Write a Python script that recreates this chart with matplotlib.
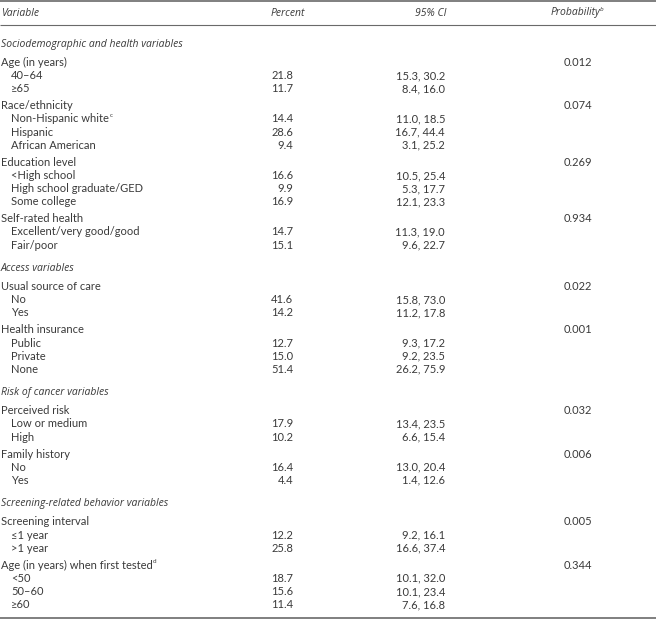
import matplotlib
matplotlib.use("Agg")
import matplotlib.pyplot as plt

# ---------------- data ----------------
section_names = ["Sociodemographic and health variables", "Access variables",
                 "Risk of cancer variables", "Screening-related behavior variables"]
section_group_counts = [4, 2, 2, 2]

group_names = ["Age (in years)", "Race/ethnicity", "Education level", "Self-rated health",
               "Usual source of care", "Health insurance",
               "Perceived risk", "Family history",
               "Screening interval", "Age (in years) when first tested"]
group_sup = ["", "", "", "", "", "", "", "", "", "d"]
group_prob = ["0.012", "0.074", "0.269", "0.934", "0.022", "0.001", "0.032", "0.006", "0.005", "0.344"]
group_sizes = [2, 3, 3, 2, 2, 3, 2, 2, 2, 3]

item_labels = ["40\u201364", "\u226565",
               "Non-Hispanic white", "Hispanic", "African American",
               "<High school", "High school graduate/GED", "Some college",
               "Excellent/very good/good", "Fair/poor",
               "No", "Yes",
               "Public", "Private", "None",
               "Low or medium", "High",
               "No", "Yes",
               "\u22641 year", ">1 year",
               "<50", "50\u201360", "\u226560"]
item_sup = ["", "", "c"] + [""] * 21
item_percent = [21.8, 11.7, 14.4, 28.6, 9.4, 16.6, 9.9, 16.9, 14.7, 15.1,
                41.6, 14.2, 12.7, 15.0, 51.4, 17.9, 10.2, 16.4, 4.4,
                12.2, 25.8, 18.7, 15.6, 11.4]
item_ci_low = [15.3, 8.4, 11.0, 16.7, 3.1, 10.5, 5.3, 12.1, 11.3, 9.6,
               15.8, 11.2, 9.3, 9.2, 26.2, 13.4, 6.6, 13.0, 1.4,
               9.2, 16.6, 10.1, 10.1, 7.6]
item_ci_high = [30.2, 16.0, 18.5, 44.4, 25.2, 25.4, 17.7, 23.3, 19.0, 22.7,
                73.0, 17.8, 17.2, 23.5, 75.9, 23.5, 15.4, 20.4, 12.6,
                16.1, 37.4, 32.0, 23.4, 16.8]

headers = ["Variable", "Percent", "95% CI", "Probability"]

# ---------------- layout ----------------
W, H = 656, 621
fig = plt.figure(figsize=(W / 100, H / 100), dpi=100)
ax = fig.add_axes([0, 0, 1, 1])
ax.set_xlim(0, W)
ax.set_ylim(H, 0)
ax.axis("off")

FONT = ["Lato", "DejaVu Sans"]
IFONT = ["Open Sans", "DejaVu Sans"]
FS = 8.0
IFS = 7.5
TC = "#3a3a3a"
LC = "#6a6a6a"

x_var, x_ind = 1, 11
x_pct_r = 293
x_ci_r = 445
x_prob_c = 578

def txt(x, y, s, ha="left", style="normal", sup=""):
    fam = IFONT if style == "italic" else FONT
    fs = IFS if style == "italic" else FS
    t = ax.text(x, y, s, ha=ha, va="center", fontsize=fs, family=fam,
                color=TC, style=style)
    if sup:
        ax.annotate(sup, xy=(1, 0.6), xycoords=t, ha="left", va="bottom",
                    fontsize=FS * 0.58, family=fam, color=TC, style=style,
                    xytext=(0.3, 0), textcoords="offset points")
    return t

# rules
ax.plot([0, W], [1, 1], color=LC, lw=1.2, solid_capstyle="butt")
ax.plot([0, W], [24.5, 24.5], color=LC, lw=0.8, solid_capstyle="butt")

# header
hy = 13
txt(x_var, hy, headers[0], style="italic")
txt(288, hy, headers[1], ha="center", style="italic")
txt(431, hy, headers[2], ha="center", style="italic")
txt(575, hy, headers[3], ha="center", style="italic", sup="b")

h, g, S, s1 = 13.1, 17.2, 23.0, 18.5
y = 44.0
gi = 0
ii = 0
for si, sname in enumerate(section_names):
    if si > 0:
        y += S
    txt(x_var, y, sname, style="italic")
    for k in range(section_group_counts[si]):
        y += s1 if k == 0 else g
        txt(x_var, y, group_names[gi], sup=group_sup[gi])
        txt(x_prob_c, y, group_prob[gi], ha="center")
        for _ in range(group_sizes[gi]):
            y += h
            txt(x_ind, y, item_labels[ii], sup=item_sup[ii])
            txt(x_pct_r, y, f"{item_percent[ii]:.1f}", ha="right")
            txt(x_ci_r, y, f"{item_ci_low[ii]:.1f}, {item_ci_high[ii]:.1f}", ha="right")
            ii += 1
        gi += 1

ax.plot([0, W], [y + 13, y + 13], color=LC, lw=1.2, solid_capstyle="butt")

fig.savefig("out.png", dpi=100, facecolor="white")
